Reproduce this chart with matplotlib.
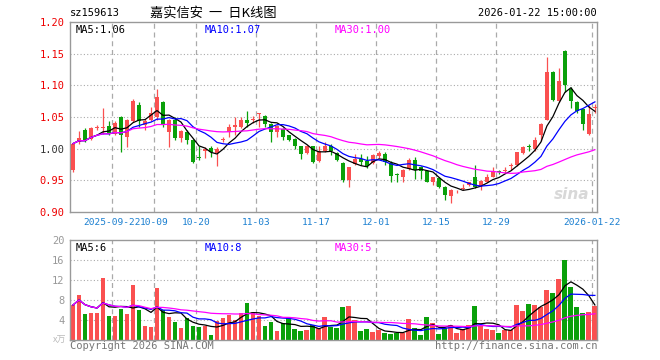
import numpy as np
import pandas as pd
import matplotlib
matplotlib.use('Agg')
import matplotlib.pyplot as plt

# daily candles, 2025-09-11 .. 2026-01-22 (88 trading days)
opens = [0.966, 1.010, 1.030, 1.015, 1.032, 1.032, 1.036, 1.023, 1.050, 1.018,
         1.044, 1.069, 1.037, 1.045, 1.050, 1.074, 1.026, 1.046, 1.017, 1.027,
         1.013, 0.987, 0.997, 1.001, 0.993, 1.013, 1.027, 1.034, 1.035, 1.045,
         1.045, 1.055, 1.052, 1.039, 1.026, 1.031, 1.021, 1.016, 1.004, 0.993,
         1.004, 0.981, 0.996, 1.005, 0.993, 0.977, 0.950, 0.976, 0.984, 0.981,
         0.978, 0.989, 0.992, 0.978, 0.960, 0.956, 0.968, 0.982, 0.971, 0.965,
         0.948, 0.953, 0.940, 0.926, 0.931, 0.936, 0.943, 0.956, 0.941, 0.948,
         0.956, 0.964, 0.965, 0.973, 0.974, 0.993, 1.004, 1.000, 1.021, 1.046,
         1.121, 1.075, 1.154, 1.094, 1.073, 1.062, 1.023, 1.064]
highs = [1.008, 1.028, 1.033, 1.035, 1.038, 1.064, 1.043, 1.044, 1.052, 1.047,
         1.078, 1.074, 1.047, 1.066, 1.095, 1.076, 1.047, 1.050, 1.030, 1.030,
         1.015, 1.005, 1.003, 1.004, 1.002, 1.018, 1.039, 1.050, 1.050, 1.060,
         1.051, 1.057, 1.053, 1.041, 1.037, 1.033, 1.022, 1.017, 1.005, 1.006,
         1.005, 1.004, 1.010, 1.007, 0.995, 0.979, 0.971, 0.992, 0.992, 0.988,
         0.992, 0.996, 0.994, 0.980, 0.961, 0.968, 0.985, 0.987, 0.973, 0.966,
         0.956, 0.955, 0.941, 0.937, 0.935, 0.945, 0.948, 0.974, 0.951, 0.960,
         0.971, 0.966, 0.971, 0.978, 0.995, 1.005, 1.007, 1.019, 1.040, 1.145,
         1.122, 1.128, 1.155, 1.097, 1.075, 1.063, 1.069, 1.070]
lows = [0.963, 1.008, 1.011, 1.013, 1.029, 1.023, 1.021, 1.021, 0.995, 1.003,
        1.042, 1.035, 1.029, 1.043, 1.045, 1.034, 1.003, 1.014, 1.010, 1.008,
        0.977, 0.982, 0.986, 0.987, 0.972, 1.011, 1.018, 1.021, 1.033, 1.034,
        1.040, 1.034, 1.034, 1.011, 1.018, 1.013, 1.012, 1.000, 0.984, 0.991,
        0.978, 0.979, 0.994, 0.990, 0.980, 0.947, 0.940, 0.974, 0.975, 0.970,
        0.976, 0.986, 0.974, 0.948, 0.948, 0.948, 0.966, 0.952, 0.952, 0.947,
        0.942, 0.938, 0.919, 0.914, 0.930, 0.934, 0.941, 0.938, 0.934, 0.947,
        0.955, 0.960, 0.962, 0.966, 0.973, 0.991, 0.996, 0.997, 1.012, 1.045,
        1.075, 1.073, 1.090, 1.064, 1.057, 1.030, 1.022, 1.057]
closes = [1.008, 1.017, 1.013, 1.033, 1.035, 1.035, 1.023, 1.040, 1.021, 1.046,
          1.075, 1.044, 1.043, 1.057, 1.082, 1.037, 1.046, 1.017, 1.028, 1.013,
          0.979, 0.985, 1.000, 0.994, 1.000, 1.016, 1.035, 1.037, 1.046, 1.040,
          1.047, 1.056, 1.039, 1.026, 1.036, 1.018, 1.014, 1.004, 0.992, 1.004,
          0.979, 0.996, 1.004, 0.996, 0.982, 0.950, 0.971, 0.984, 0.979, 0.973,
          0.990, 0.993, 0.979, 0.957, 0.959, 0.966, 0.982, 0.966, 0.965, 0.948,
          0.955, 0.940, 0.927, 0.935, 0.932, 0.937, 0.947, 0.939, 0.949, 0.956,
          0.965, 0.963, 0.967, 0.974, 0.994, 1.003, 1.002, 1.014, 1.039, 1.121,
          1.077, 1.107, 1.100, 1.076, 1.059, 1.039, 1.055, 1.066]
# volume, 万
volumes = [7.0, 9.0, 5.2, 5.4, 5.4, 12.4, 4.8, 4.8, 6.2, 5.2,
           11.0, 6.0, 2.8, 2.6, 10.4, 6.0, 4.6, 3.6, 2.4, 4.4,
           2.8, 2.6, 2.8, 1.0, 3.8, 4.4, 5.0, 4.0, 5.4, 7.4,
           5.6, 4.8, 2.8, 3.6, 1.8, 3.4, 4.4, 2.2, 1.8, 2.0,
           3.0, 2.2, 4.6, 2.7, 2.4, 6.6, 6.8, 4.0, 1.8, 2.2,
           1.6, 2.0, 1.4, 1.2, 1.4, 1.4, 4.2, 2.4, 1.0, 4.6,
           3.4, 1.2, 2.4, 3.0, 1.4, 2.2, 3.0, 6.8, 2.8, 2.2,
           2.0, 1.4, 2.0, 2.0, 7.0, 5.8, 7.2, 7.0, 6.6, 10.0,
           9.4, 12.2, 16.0, 10.6, 6.6, 5.4, 5.6, 6.8]
date_labels = ['2025-09-22', '10-09', '10-20', '11-03', '11-17',
               '12-01', '12-15', '12-29', '2026-01-22']
date_index = [7, 14, 21, 31, 41, 51, 61, 71, 87]
price_ticks = [0.90, 0.95, 1.00, 1.05, 1.10, 1.15, 1.20]
vol_ticks = [4, 8, 12, 16, 20]

RED = '#fa5050'
GREEN = '#0aa00a'
GRID = '#aaaaaa'
MONO = 'DejaVu Sans Mono'

df = pd.DataFrame({'o': opens, 'h': highs, 'l': lows, 'c': closes, 'v': volumes})
x = np.arange(len(df))
up = df['c'] >= df['o']
colors = np.where(up, RED, GREEN)

fig = plt.figure(figsize=(6.6, 3.6), dpi=100)
ax = fig.add_axes([70 / 660, 148 / 360, 527 / 660, 190 / 360])
axv = fig.add_axes([70 / 660, 20 / 360, 527 / 660, 100 / 360])
xmin, xmax = -0.5, 87.35
grid_x = [i - 0.5 for i in date_index]

# price panel
for gx in grid_x:
    ax.axvline(gx, color=GRID, ls=(0, (4, 3)), lw=0.9, zorder=0)
for gy in price_ticks[1:-1]:
    ax.axhline(gy, color=GRID, ls=(0, (1, 2)), lw=0.8, zorder=0)
ax.vlines(x, df['l'], df['h'], colors=colors, lw=0.9, zorder=2)
body = np.maximum((df['c'] - df['o']).abs(), 0.0012)
ax.bar(x, body, bottom=np.minimum(df['o'], df['c']), width=0.78,
       color=colors, zorder=3)
for n, col in [(5, 'black'), (10, '#0000ff'), (30, '#ff00ff')]:
    ax.plot(x, df['c'].rolling(n, min_periods=1).mean(), color=col, lw=0.9,
            zorder=4)
ax.set_xlim(xmin, xmax)
ax.set_ylim(0.90, 1.20)
ax.set_yticks(price_ticks)
ax.set_yticklabels(['%.2f' % p for p in price_ticks], family=MONO, fontsize=7.5)
for lab, p in zip(ax.get_yticklabels(), price_ticks):
    lab.set_color('#333333' if abs(p - 1.0) < 1e-9 else '#ee0000')
ax.set_xticks(grid_x)
ax.set_xticklabels(date_labels, family=MONO, fontsize=6.8, color='#1a7fd0')
ax.tick_params(length=0, pad=4)

ax.text(0.01, 0.985, 'MA5:1.06', transform=ax.transAxes, family=MONO,
        fontsize=7.5, va='top', color='black')
ax.text(0.256, 0.985, 'MA10:1.07', transform=ax.transAxes, family=MONO,
        fontsize=7.5, va='top', color='#0000ff')
ax.text(0.503, 0.985, 'MA30:1.00', transform=ax.transAxes, family=MONO,
        fontsize=7.5, va='top', color='#ff00ff')
ax.text(0.985, 0.07, 'sina', transform=ax.transAxes, ha='right',
        fontsize=11, fontweight='bold', style='italic', color='#d8d8d8',
        zorder=1)

# volume panel
for gx in grid_x:
    axv.axvline(gx, color=GRID, ls=(0, (4, 3)), lw=0.9, zorder=0)
for gy in vol_ticks[:-1]:
    axv.axhline(gy, color=GRID, ls=(0, (1, 2)), lw=0.8, zorder=0)
axv.bar(x, df['v'], width=0.82, color=colors, zorder=2)
for n, col in [(5, 'black'), (10, '#0000ff'), (30, '#ff00ff')]:
    axv.plot(x, df['v'].rolling(n, min_periods=1).mean(), color=col, lw=0.9,
             zorder=3)
axv.set_xlim(xmin, xmax)
axv.set_ylim(0, 20)
axv.set_yticks(vol_ticks)
axv.set_yticklabels([str(v) for v in vol_ticks], family=MONO, fontsize=7.5,
                    color='#999999')
axv.set_xticks([])
axv.tick_params(length=0, pad=4)
axv.text(0.01, 0.97, 'MA5:6', transform=axv.transAxes, family=MONO,
         fontsize=7.5, va='top', color='black')
axv.text(0.256, 0.97, 'MA10:8', transform=axv.transAxes, family=MONO,
         fontsize=7.5, va='top', color='#0000ff')
axv.text(0.503, 0.97, 'MA30:5', transform=axv.transAxes, family=MONO,
         fontsize=7.5, va='top', color='#ff00ff')

for a in (ax, axv):
    for s in a.spines.values():
        s.set_color('#999999')
        s.set_linewidth(1.0)

# header and footer texts
fig.text(70 / 660, 1 - 13 / 360, 'sz159613', family=MONO, fontsize=7.5,
         va='center', color='black')
fig.text(150 / 660, 1 - 13 / 360, '嘉实信安  一  日K线图',
         family=['Noto Sans CJK SC', 'DejaVu Sans'], fontsize=9.5,
         va='center', color='black')
fig.text(597 / 660, 1 - 13 / 360, '2026-01-22 15:00:00', family=MONO,
         fontsize=7.5, va='center', ha='right', color='black')
fig.text(66 / 660, 1 - 340 / 360, 'x万', family=['Noto Sans CJK SC', 'DejaVu Sans'],
         fontsize=6.5, va='center', ha='right', color='#bbbbbb')
fig.text(70 / 660, 1 - 346 / 360, 'Copyright 2026 SINA.COM', family=MONO,
         fontsize=7.5, va='center', color='#777777')
fig.text(597 / 660, 1 - 346 / 360, 'http://finance.sina.com.cn', family=MONO,
         fontsize=7.5, va='center', ha='right', color='#777777')

fig.savefig('out.png', dpi=100)
